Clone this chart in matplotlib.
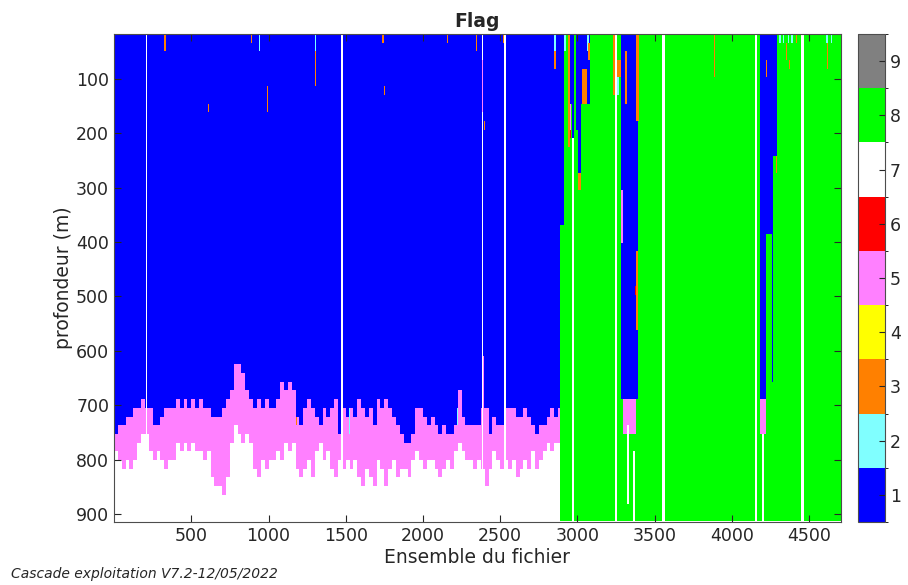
import numpy as np
import matplotlib
matplotlib.use("Agg")
import matplotlib.pyplot as plt
from matplotlib.colors import ListedColormap, BoundaryNorm

# ---------------- data ----------------
flag_colors = ['#0000FF', '#80FFFF', '#FF8000', '#FFFF00', '#FF80FF',
               '#FF0000', '#FFFFFF', '#00FF00', '#808080']
flag_ticks = [1, 2, 3, 4, 5, 6, 7, 8, 9]

x_max = 4705          # last ensemble
x_step = 5            # ensemble step of the drawn grid
depth_top = 17        # first bin edge (m)
depth_bin = 16        # bin size (m)
n_bins = 56
green_start = 2892    # ensemble where the flag 8 zone starts

# profile sampled every 25 ensembles from 0 to 2900
profile_step = 25
pink_top = [753, 738, 738, 723, 723, 707, 707, 692, 707, 707, 738, 738, 723, 707, 707,
            707, 692, 707, 692, 707, 692, 707, 692, 707, 707, 723, 723, 723, 707, 692,
            677, 627, 627, 640, 670, 692, 707, 692, 707, 692, 707, 707, 692, 658, 677,
            658, 677, 723, 738, 707, 692, 707, 723, 738, 707, 723, 707, 692, 755,
            707, 723, 707, 723, 692, 707, 723, 707, 738, 692, 707, 692, 707, 723, 738,
            755, 770, 770, 755, 707, 707, 723, 738, 723, 738, 755, 738, 755, 755, 738,
            677, 723, 738, 738, 738, 738, 707, 707, 755, 723, 738, 738, 707, 707, 707,
            723, 723, 707, 723, 738, 755, 738, 738, 723, 707, 723, 707, 707]
pink_bottom = [785, 800, 818, 800, 818, 800, 770, 755, 755, 787, 800, 787, 800, 818, 800,
               800, 770, 785, 770, 787, 770, 785, 785, 800, 787, 830, 849, 850, 867, 840,
               770, 740, 755, 770, 755, 770, 818, 830, 800, 818, 800, 800, 787, 800, 770,
               787, 770, 818, 830, 818, 800, 830, 787, 770, 800, 787, 818, 830, 800,
               818, 800, 818, 800, 830, 849, 818, 830, 849, 800, 818, 849, 818, 800, 830,
               818, 818, 840, 800, 787, 800, 818, 800, 800, 818, 830, 818, 800, 818, 787,
               770, 787, 800, 800, 818, 800, 818, 849, 818, 787, 800, 818, 800, 818, 800,
               830, 818, 800, 818, 787, 818, 800, 787, 770, 787, 770, 770, 770]

# patches: ensemble start, ensemble end, depth start, depth end, flag
patch_x0 = [207, 1472, 2383, 2527,
            327, 600, 643, 643, 581, 581, 581, 611, 884, 938, 988, 1283, 1300, 1300, 1371,
            1737, 1748, 2028, 2157, 2344, 2383, 2393, 2517, 2852, 2852, 2390, 1518, 2218, 1180,
            2892, 2912, 2940, 2950, 2950, 2950, 2963, 2963, 2989, 3004, 3004, 3026, 3032, 3058,
            3069, 3230, 3241, 3256, 3256, 3284, 3305, 3284, 3295, 3320, 3359, 3305, 3381, 3374,
            3381, 3549, 3855, 3885, 4149, 4178, 4178, 4195, 4221, 4221, 4243, 4258, 4264, 4285,
            4306, 4330, 4360, 4385, 4350, 4371, 4414, 4451, 4608, 4640, 4614]
patch_x1 = [217, 1480, 2388, 2537,
            333, 606, 649, 649, 587, 587, 587, 617, 890, 944, 994, 1289, 1306, 1306, 1377,
            1743, 1754, 2034, 2163, 2350, 2388, 2399, 2523, 2858, 2858, 2395, 1524, 2226, 1186,
            2912, 2925, 2950, 2965, 2958, 2958, 2978, 2978, 3026, 3019, 3019, 3079, 3058, 3073,
            3079, 3241, 3256, 3284, 3270, 3305, 3392, 3295, 3381, 3333, 3370, 3320, 3398, 3381,
            3392, 3564, 3861, 3890, 4167, 4221, 4221, 4212, 4243, 4230, 4258, 4264, 4296, 4296,
            4316, 4340, 4370, 4395, 4356, 4377, 4420, 4464, 4620, 4650, 4620]
patch_d0 = [17, 17, 17, 17,
            17, 17, 17, 50, 82, 99, 116, 146, 17, 17, 116, 82, 17, 50, 17,
            17, 116, 17, 17, 17, 65, 178, 17, 17, 50, 610, 707, 707, 723,
            17, 17, 17, 17, 145, 194, 17, 212, 17, 194, 273, 17, 80, 17,
            35, 17, 17, 65, 96, 17, 17, 304, 690, 745, 788, 47, 17, 482,
            421, 17, 17, 17, 17, 17, 690, 755, 17, 65, 17, 17, 17, 243,
            17, 17, 17, 17, 35, 65, 17, 17, 17, 17, 35]
patch_d1 = [913, 913, 913, 913,
            50, 34, 50, 65, 99, 116, 132, 162, 34, 50, 162, 99, 50, 116, 34,
            34, 132, 34, 34, 50, 162, 194, 34, 50, 82, 760, 756, 745, 738,
            372, 47, 230, 145, 194, 212, 212, 913, 194, 304, 304, 145, 145, 47,
            65, 130, 913, 96, 130, 690, 690, 402, 755, 880, 913, 145, 175, 500,
            562, 913, 913, 96, 913, 690, 755, 913, 378, 96, 378, 657, 243, 273,
            35, 35, 35, 35, 65, 80, 35, 913, 35, 35, 80]
patch_flag = [7, 7, 7, 7,
              3, 3, 2, 3, 3, 2, 3, 3, 3, 2, 3, 3, 2, 3, 3,
              3, 3, 3, 3, 3, 5, 3, 3, 2, 3, 5, 2, 2, 3,
              1, 2, 3, 1, 5, 6, 1, 7, 1, 1, 3, 1, 3, 2,
              3, 3, 7, 3, 2, 1, 1, 5, 5, 7, 7, 3, 3, 6,
              3, 7, 7, 3, 7, 1, 5, 7, 1, 3, 1, 1, 1, 3,
              2, 2, 2, 2, 3, 3, 3, 7, 2, 2, 3]

# ---------------- build the flag grid ----------------
x_edges = np.arange(0, x_max + x_step, x_step)
x_cent = 0.5 * (x_edges[:-1] + x_edges[1:])
d_edges = depth_top + depth_bin * np.arange(n_bins + 1)
d_cent = 0.5 * (d_edges[:-1] + d_edges[1:])

top_arr = np.array(pink_top, dtype=float)
bot_arr = np.array(pink_bottom, dtype=float)
idx = np.clip((x_cent // profile_step).astype(int), 0, len(top_arr) - 1)
T = top_arr[idx][None, :]
B = bot_arr[idx][None, :]
D = d_cent[:, None]

flags = np.where(D < T, 1, np.where(D < B, 5, 7)).astype(float)
flags[:, x_cent >= green_start] = 8

for x0, x1, d0, d1, f in zip(patch_x0, patch_x1, patch_d0, patch_d1, patch_flag):
    cm = (x_cent >= x0) & (x_cent < x1)
    rm = (d_cent >= d0) & (d_cent < d1)
    flags[np.ix_(rm, cm)] = f

# ---------------- draw ----------------
txt = '#262626'
plt.rcParams['font.family'] = ['DejaVu Sans']
fig = plt.figure(figsize=(9.08, 5.85), dpi=100)
ax = fig.add_axes([0.1256, 0.1077, 0.8004, 0.8342])
cmap = ListedColormap(flag_colors)
norm = BoundaryNorm(np.arange(0.5, 10.5, 1.0), cmap.N)
mesh = ax.pcolormesh(x_edges, d_edges, flags, cmap=cmap, norm=norm, shading='flat')
ax.set_xlim(0, x_max)
ax.set_ylim(915, 17)
ax.set_xticks(np.arange(500, 4501, 500))
ax.set_yticks(np.arange(100, 901, 100))
ax.tick_params(direction='in', top=True, right=True, labelsize=12.5, colors=txt, length=5)
for s in ax.spines.values():
    s.set_color('#4d4d4d')
ax.set_xlabel('Ensemble du fichier', fontsize=13.5, color=txt, labelpad=2)
ax.set_ylabel('profondeur (m)', fontsize=13.5, color=txt, labelpad=2)
ax.set_title('Flag', fontsize=13.5, fontweight='bold', color=txt, pad=5)

cax = fig.add_axes([0.945, 0.1077, 0.0297, 0.8342])
cb = fig.colorbar(mesh, cax=cax, ticks=flag_ticks)
cb.ax.tick_params(direction='in', labelsize=12.5, colors=txt, length=4)
cb.outline.set_edgecolor('#4d4d4d')

fig.text(0.012, 0.012, 'Cascade exploitation V7.2-12/05/2022', fontsize=10,
         style='italic', color=txt)
fig.savefig('out.png', dpi=100)
